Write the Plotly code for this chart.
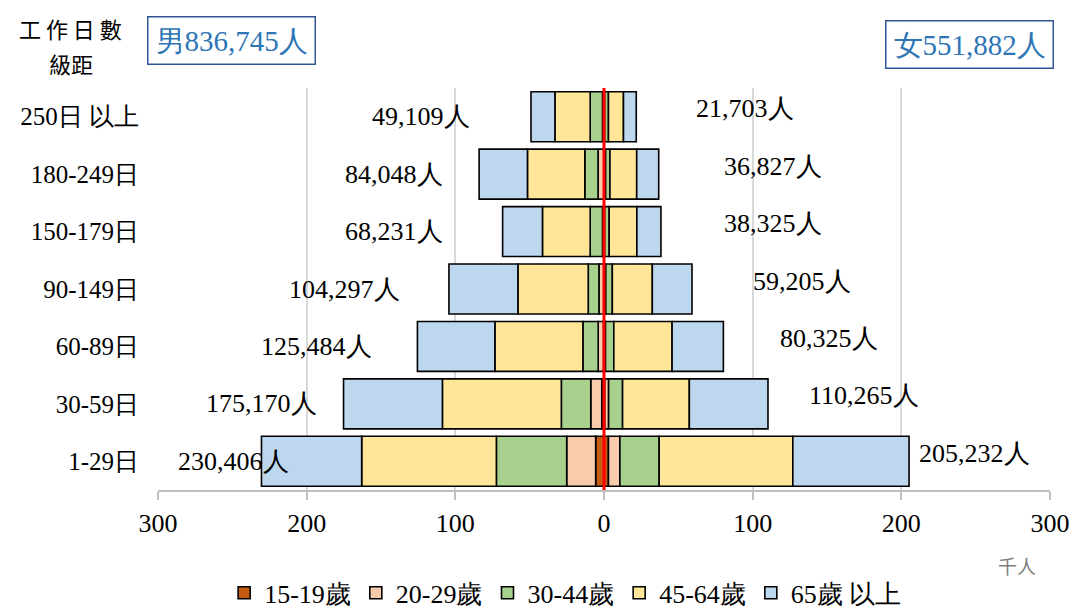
import plotly.graph_objects as go

# ---------------- data (thousands of persons) ----------------
categories = ["1-29日", "30-59日", "60-89日", "90-149日", "150-179日", "180-249日", "250日 以上"]
age_groups = ["15-19歲", "20-29歲", "30-44歲", "45-64歲", "65歲 以上"]

male_15_19 = [5.6, 1.5, 0.3, 0.2, 0.1, 0.1, 0.1]
male_20_29 = [19.5, 7.4, 3.6, 3.2, 0.9, 3.9, 0.9]
male_30_44 = [47.3, 19.8, 10.3, 7.2, 8.3, 8.9, 8.3]
male_45_64 = [90.6, 80.0, 59.2, 47.3, 32.1, 38.6, 23.7]
male_65_up = [67.4, 66.5, 52.1, 46.4, 26.8, 32.5, 16.1]

female_15_19 = [3.0, 0.5, 0.2, 0.2, 0.1, 0.1, 0.1]
female_20_29 = [7.7, 2.6, 0.8, 1.0, 0.3, 1.0, 0.3]
female_30_44 = [26.4, 9.4, 5.6, 4.4, 3.1, 2.9, 2.6]
female_45_64 = [89.9, 44.9, 39.2, 26.9, 18.6, 18.0, 10.1]
female_65_up = [78.2, 52.9, 34.5, 26.7, 16.2, 14.8, 8.6]

male_totals = [230406, 175170, 125484, 104297, 68231, 84048, 49109]
female_totals = [205232, 110265, 80325, 59205, 38325, 36827, 21703]
male_total_all = 836745
female_total_all = 551882

tick_values = [-300, -200, -100, 0, 100, 200, 300]
tick_labels = ["300", "200", "100", "0", "100", "200", "300"]

# ---------------- layout helpers (label placement, not data) ----------------
male_label_right_x = [-210.7, -191.7, -154.7, -135.6, -106.9, -106.9, -88.6]
female_label_left_x = [210.7, 136.7, 117.2, 98.7, 79.6, 79.6, 60.5]

colors = ["#C55A11", "#F8CBAD", "#A9D18E", "#FFE699", "#BDD7EE"]
male_series = [male_15_19, male_20_29, male_30_44, male_45_64, male_65_up]
female_series = [female_15_19, female_20_29, female_30_44, female_45_64, female_65_up]

SERIF = "Liberation Serif"
CJK = "Noto Sans CJK TC"

fig = go.Figure()
for name, col, mvals, fvals in zip(age_groups, colors, male_series, female_series):
    fig.add_trace(go.Bar(
        y=categories, x=[-v for v in mvals], orientation="h", name=name,
        legendgroup=name, showlegend=True,
        marker=dict(color=col, line=dict(color="black", width=1.6)),
    ))
    fig.add_trace(go.Bar(
        y=categories, x=fvals, orientation="h", name=name,
        legendgroup=name, showlegend=False,
        marker=dict(color=col, line=dict(color="black", width=1.6)),
    ))

annotations = []
for cat, tot, xr in zip(categories, male_totals, male_label_right_x):
    annotations.append(dict(x=xr, y=cat, xref="x", yref="y", text=f"{tot:,}人",
                            showarrow=False, xanchor="right", yanchor="middle",
                            font=dict(family=SERIF, size=26, color="black")))
for cat, tot, xl in zip(categories, female_totals, female_label_left_x):
    annotations.append(dict(x=xl, y=cat, xref="x", yref="y", text=f"{tot:,}人",
                            showarrow=False, xanchor="left", yanchor="middle", yshift=8,
                            font=dict(family=SERIF, size=26, color="black")))

# gender total boxes
annotations.append(dict(x=0.082, y=1.119, xref="paper", yref="paper",
                        text=f"男{male_total_all:,}人", showarrow=False,
                        xanchor="center", yanchor="middle",
                        font=dict(family=SERIF, size=29, color="#2E75B6"),
                        bordercolor="#2F5597", borderwidth=1.5, borderpad=7,
                        bgcolor="white"))
annotations.append(dict(x=0.910, y=1.107, xref="paper", yref="paper",
                        text=f"女{female_total_all:,}人", showarrow=False,
                        xanchor="center", yanchor="middle",
                        font=dict(family=SERIF, size=29, color="#2E75B6"),
                        bordercolor="#2F5597", borderwidth=1.5, borderpad=7,
                        bgcolor="white"))
# header
annotations.append(dict(x=-0.098, y=1.15, xref="paper", yref="paper",
                        text="工 作 日 數", showarrow=False, xanchor="center", yanchor="middle",
                        font=dict(family=CJK, size=22, color="black")))
annotations.append(dict(x=-0.098, y=1.063, xref="paper", yref="paper",
                        text="級距", showarrow=False, xanchor="center", yanchor="middle",
                        font=dict(family=CJK, size=22, color="black")))
# unit
annotations.append(dict(x=0.963, y=-0.187, xref="paper", yref="paper",
                        text="千人", showarrow=False, xanchor="center", yanchor="middle",
                        font=dict(family=CJK, size=19, color="#7F7F7F")))

fig.update_layout(
    width=1074, height=608,
    margin=dict(l=158, r=24, t=88, b=118, autoexpand=False),
    barmode="relative", bargap=0.13,
    plot_bgcolor="white", paper_bgcolor="white",
    annotations=annotations,
    legend=dict(orientation="h", x=0.457, y=-0.256, xanchor="center", yanchor="middle",
                font=dict(family=SERIF, size=26, color="black"),
                traceorder="normal", itemwidth=30, tracegroupgap=0),
    xaxis=dict(range=[-300, 300], tickvals=tick_values, ticktext=tick_labels,
               showgrid=True, gridcolor="#D9D9D9", gridwidth=1.5,
               zeroline=False, showline=True, linecolor="#BFBFBF", linewidth=1.5,
               ticks="outside", ticklen=8, tickcolor="#BFBFBF", tickwidth=1.5,
               tickfont=dict(family=SERIF, size=26, color="black"),
               ticklabelstandoff=1, fixedrange=True, automargin=False),
    yaxis=dict(categoryorder="array", categoryarray=categories,
               showgrid=False, zeroline=False, showline=False,
               tickfont=dict(family=SERIF, size=25, color="black"),
               ticklabelstandoff=18, fixedrange=True, automargin=False),
    shapes=[dict(type="line", xref="x", yref="paper", x0=0, x1=0, y0=0, y1=1,
                 line=dict(color="#FF0000", width=3), layer="above")],
    showlegend=True,
)

fig.write_html("out.html", config={"displayModeBar": False},
               post_script="document.body.style.margin='0';document.body.style.padding='0';")
